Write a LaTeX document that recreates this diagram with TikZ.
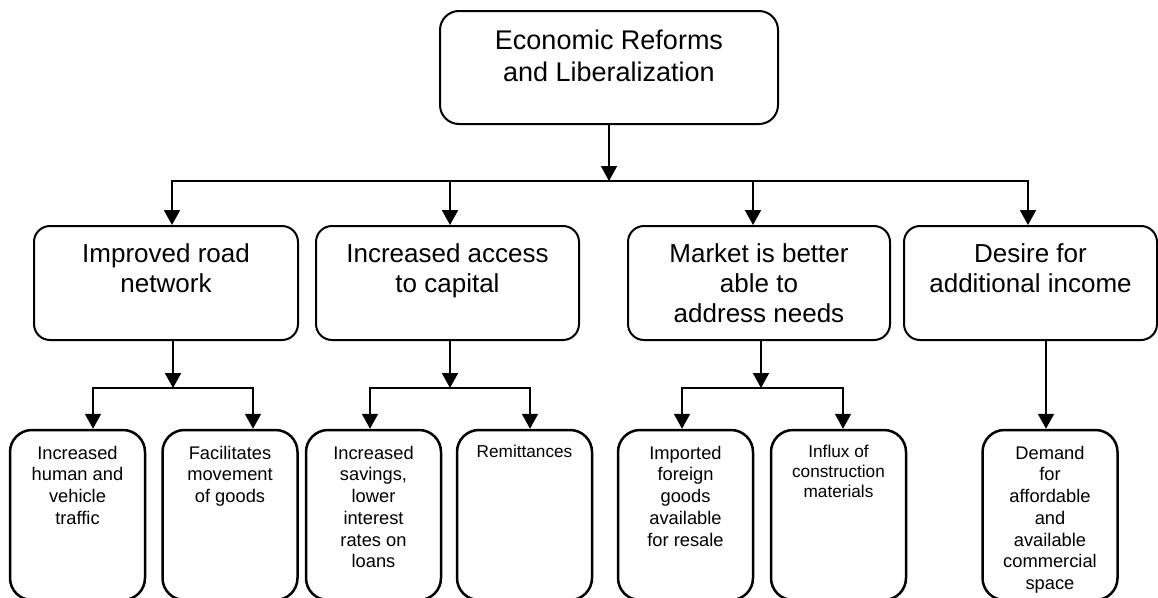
\documentclass[tikz,border=0pt]{standalone}
\usepackage{fontspec}
\setmainfont{Liberation Sans}
\usetikzlibrary{arrows.meta,positioning}

\tikzset{
  boite/.style={draw=black, line width=2pt, rounded corners=16pt, inner sep=0pt},
  grande/.style={boite, rounded corners=19pt, minimum width=338pt, minimum height=113pt},
  moyenne/.style={boite, minimum height=114pt},
  petite/.style={boite, line width=2.5pt, rounded corners=22pt, minimum width=135pt, minimum height=170pt},
  titre/.style={anchor=north, inner sep=0pt, align=center, font=\fontsize{27}{32}\selectfont},
  texte/.style={anchor=north, inner sep=0pt, align=center, font=\fontsize{26}{30}\selectfont},
  detail/.style={anchor=north, inner sep=0pt, align=center, font=\fontsize{18.3}{21.7}\selectfont},
  menu/.style={detail, font=\fontsize{17.2}{20}\selectfont},
  trait/.style={line width=2pt},
  fleche/.style={line width=2pt, -{Triangle[width=16pt,length=15pt]}},
}

\begin{document}
\begin{tikzpicture}[x=1pt, y=-1pt]
  \fill[white] (0,0) rectangle (1158,597);
  \clip (0,0) rectangle (1158,597);

  % niveau 1
  \node[grande] (reform) at (609,67.5) {};
  \node[titre] (reform-t) at ([yshift=-20pt]reform.north) {Economic Reforms\\and Liberalization};

  % niveau 2
  \node[moyenne, minimum width=264pt] (road) at (166,283) {};
  \node[moyenne, minimum width=263pt] (capital) at (447.5,283) {};
  \node[moyenne, minimum width=262pt] (market) at (759,283) {};
  \node[moyenne, minimum width=253pt] (income) at (1030.5,283) {};
  \node[texte] (road-t) at ([yshift=-18pt]road.north) {Improved road\\network};
  \node[texte] (capital-t) at ([yshift=-18pt]capital.north) {Increased access\\to capital};
  \node[texte] (market-t) at ([yshift=-18pt]market.north) {Market is better\\able to\\address needs};
  \node[texte] (income-t) at ([yshift=-18pt]income.north) {Desire for\\additional income};

  % niveau 3
  \node[petite] (traffic) at (77.5,515) {};
  \node[petite] (goods) at (230,515) {};
  \node[petite] (savings) at (373.5,515) {};
  \node[petite] (remit) at (524.5,515) {};
  \node[petite] (imports) at (685.5,515) {};
  \node[petite] (materials) at (838.5,515) {};
  \node[petite] (space) at (1050,515) {};
  \node[detail] (traffic-t) at ([yshift=-17pt]traffic.north) {Increased\\human and\\vehicle\\traffic};
  \node[detail] (goods-t) at ([yshift=-17pt]goods.north) {Facilitates\\movement\\of goods};
  \node[detail] (savings-t) at ([yshift=-17pt]savings.north) {Increased\\savings,\\lower\\interest\\rates on\\loans};
  \node[menu] (remit-t) at ([yshift=-16pt]remit.north) {Remittances};
  \node[detail] (imports-t) at ([yshift=-17pt]imports.north) {Imported\\foreign\\goods\\available\\for resale};
  \node[menu] (materials-t) at ([yshift=-16pt]materials.north) {Influx of\\construction\\materials};
  \node[detail] (space-t) at ([yshift=-17pt]space.north) {Demand\\for\\affordable\\and\\available\\commercial\\space};

  % barre principale
  \coordinate (b1) at (172,181);
  \coordinate (b2) at (450,181);
  \coordinate (b3) at (753,181);
  \coordinate (b4) at (1028,181);
  \draw[fleche] (reform.south) -- (reform.south |- b1);
  \draw[trait] (b2) -- (b3);
  \draw[fleche] (b2) -- (b1) -- (b1 |- road.north);
  \draw[fleche] (b3) -- (b4) -- (b4 |- income.north);
  \draw[fleche] (b2) -- (b2 |- capital.north);
  \draw[fleche] (b3) -- (b3 |- market.north);

  % barres secondaires
  \coordinate (s1) at (173,388);
  \coordinate (s2) at (450,388);
  \coordinate (s3) at (761,388);
  \coordinate (s4) at (1046,388);
  \coordinate (a1) at (93,388);
  \coordinate (a2) at (253,388);
  \coordinate (a3) at (370,388);
  \coordinate (a4) at (530,388);
  \coordinate (a5) at (682,388);
  \coordinate (a6) at (843,388);

  \draw[fleche] (s1 |- road.south) -- (s1);
  \draw[fleche] (s1) -- (a1) -- (a1 |- traffic.north);
  \draw[fleche] (s1) -- (a2) -- (a2 |- goods.north);

  \draw[fleche] (s2 |- capital.south) -- (s2);
  \draw[fleche] (s2) -- (a3) -- (a3 |- savings.north);
  \draw[fleche] (s2) -- (a4) -- (a4 |- remit.north);

  \draw[fleche] (s3 |- market.south) -- (s3);
  \draw[fleche] (s3) -- (a5) -- (a5 |- imports.north);
  \draw[fleche] (s3) -- (a6) -- (a6 |- materials.north);

  \draw[fleche] (s4 |- income.south) -- (s4 |- space.north);
\end{tikzpicture}
\end{document}
